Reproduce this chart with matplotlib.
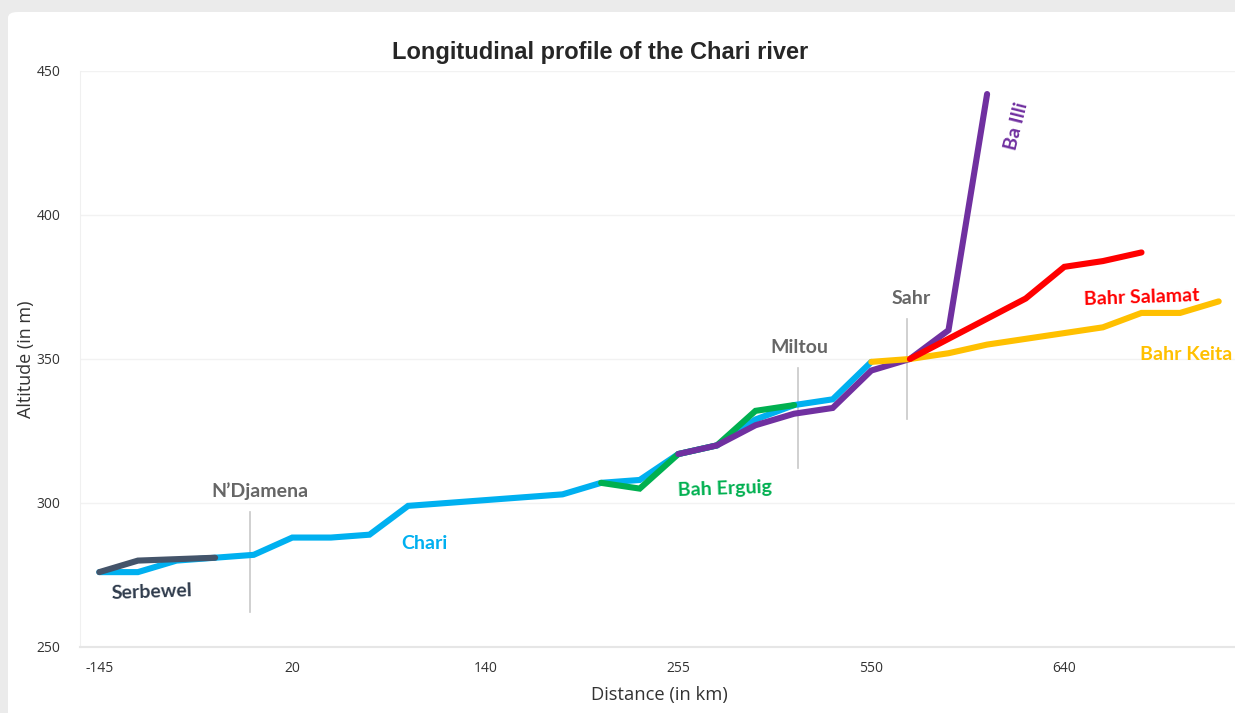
import matplotlib.pyplot as plt
from matplotlib.patches import FancyBboxPatch

# distance categories along the river (only every 5th is labelled)
distance_ticks = ["-145", "20", "140", "255", "550", "640"]
n_points = 30

# altitude (m) per category index
chari = [276, 276, 280, 281, 282, 288, 288, 289, 299, 300,
         301, 302, 303, 307, 308, 317, 320, 329, 334, 336, 349]
serbewel = [276, 280, 280.5, 281]
bah_erguig = [307, 305, 317, 320, 332, 334]          # starts at index 13
ba_illi = [317, 320, 327, 331, 333, 346, 350, 360, 442]  # starts at index 15
bahr_salamat = [350, 357, 364, 371, 382, 384, 387]   # starts at index 21
bahr_keita = [349, 350, 352, 355, 357, 359, 361, 366, 366, 370]  # starts at index 20

# towns marked with a vertical tick: (name, x index, y low, y high, label x)
towns = [("N\u2019Djamena", 3.91, 262, 297, 4.17),
         ("Miltou", 18.1, 312, 347, 18.13),
         ("Sahr", 20.93, 329, 364, 21.04)]

fig = plt.figure(figsize=(12.35, 7.13), dpi=100)
fig.patch.set_facecolor("#ebebeb")

# white card behind the chart
bg = fig.add_axes([0, 0, 1, 1], zorder=-5)
bg.axis("off")
bg.set_xlim(0, 1)
bg.set_ylim(0, 1)
bg.add_patch(FancyBboxPatch((8 / 1235, -0.05), 1.2, 1.05 - 12 / 713,
                            boxstyle="round,pad=0,rounding_size=0.008",
                            facecolor="white", edgecolor="none"))

ax = fig.add_axes([80 / 1235, 66 / 713, 1158 / 1235, 576 / 713])
ax.set_facecolor("none")
ax.set_xlim(-0.5, n_points - 0.5)
ax.set_ylim(250, 450)

lw = 4.4
def branch(values, start, color, z):
    xs = list(range(start, start + len(values)))
    ax.plot(xs, values, color=color, lw=lw, solid_capstyle="round",
            solid_joinstyle="miter", zorder=z, clip_on=False)

branch(chari, 0, "#00B0F0", 3)
branch(serbewel, 0, "#44546A", 4)
branch(bah_erguig, 13, "#00B050", 4)
branch(ba_illi, 15, "#7030A0", 5)
branch(bahr_keita, 20, "#FFC000", 6)
branch(bahr_salamat, 21, "#FF0000", 7)

label_font = ["Lato", "DejaVu Sans"]
fs = 14
for name, x, y0, y1, lx in towns:
    ax.plot([x, x], [y0, y1], color="#c8c8c8", lw=1.2, zorder=2)
    ax.text(lx, y1 + 4, name, color="#666666", fontsize=fs,
            fontweight="bold", family=label_font, ha="center", va="bottom")

ax.text(8.42, 285.8, "Chari", color="#00B0F0", fontsize=fs, fontweight="bold",
        family=label_font, ha="center", va="center")
ax.text(1.35, 269, "Serbewel", color="#2f3b4c", fontsize=fs, fontweight="bold",
        family=label_font, ha="center", va="center", rotation=2)
ax.text(16.2, 304.8, "Bah Erguig", color="#00B050", fontsize=fs, fontweight="bold",
        family=label_font, ha="center", va="center", rotation=2)
ax.text(23.75, 431, "Ba Illi", color="#7030A0", fontsize=fs, fontweight="bold",
        family=label_font, ha="center", va="center", rotation=76)
ax.text(27.0, 371.2, "Bahr Salamat", color="#FF0000", fontsize=fs, fontweight="bold",
        family=label_font, ha="center", va="center", rotation=2)
ax.text(29.36, 351.7, "Bahr Keita", color="#FFC000", fontsize=fs, fontweight="bold",
        family=label_font, ha="right", va="center", clip_on=False)

ax.set_xticks(range(0, n_points, 5))
ax.set_xticklabels(distance_ticks)
ax.set_yticks([250, 300, 350, 400, 450])
ax.tick_params(length=0, labelsize=10, labelcolor="#333333")
ax.tick_params(axis="x", pad=10)
ax.tick_params(axis="y", pad=14)
for lbl in ax.get_xticklabels() + ax.get_yticklabels():
    lbl.set_family(["Open Sans", "DejaVu Sans"])
ax.grid(axis="y", color="#f2f2f2", lw=1)
ax.set_axisbelow(True)
for side in ("top", "right"):
    ax.spines[side].set_visible(False)
ax.spines["left"].set_color("#f0f0f0")
ax.spines["bottom"].set_color("#e6e6e6")
ax.spines["bottom"].set_linewidth(1.5)

ax.set_xlabel("Distance (in km)", fontsize=13.2, color="#333333",
              family=["Open Sans", "DejaVu Sans"], labelpad=7)
ax.set_ylabel("Altitude (in m)", fontsize=13, color="#333333",
              family=["Open Sans", "DejaVu Sans"], labelpad=1)

fig.text(600 / 1235, 1 - 52 / 713, "Longitudinal profile of the Chari river",
         fontsize=17, fontweight="bold", color="#262626",
         family=["Liberation Sans", "DejaVu Sans"], ha="center", va="center")

fig.savefig("out.png", dpi=100)
